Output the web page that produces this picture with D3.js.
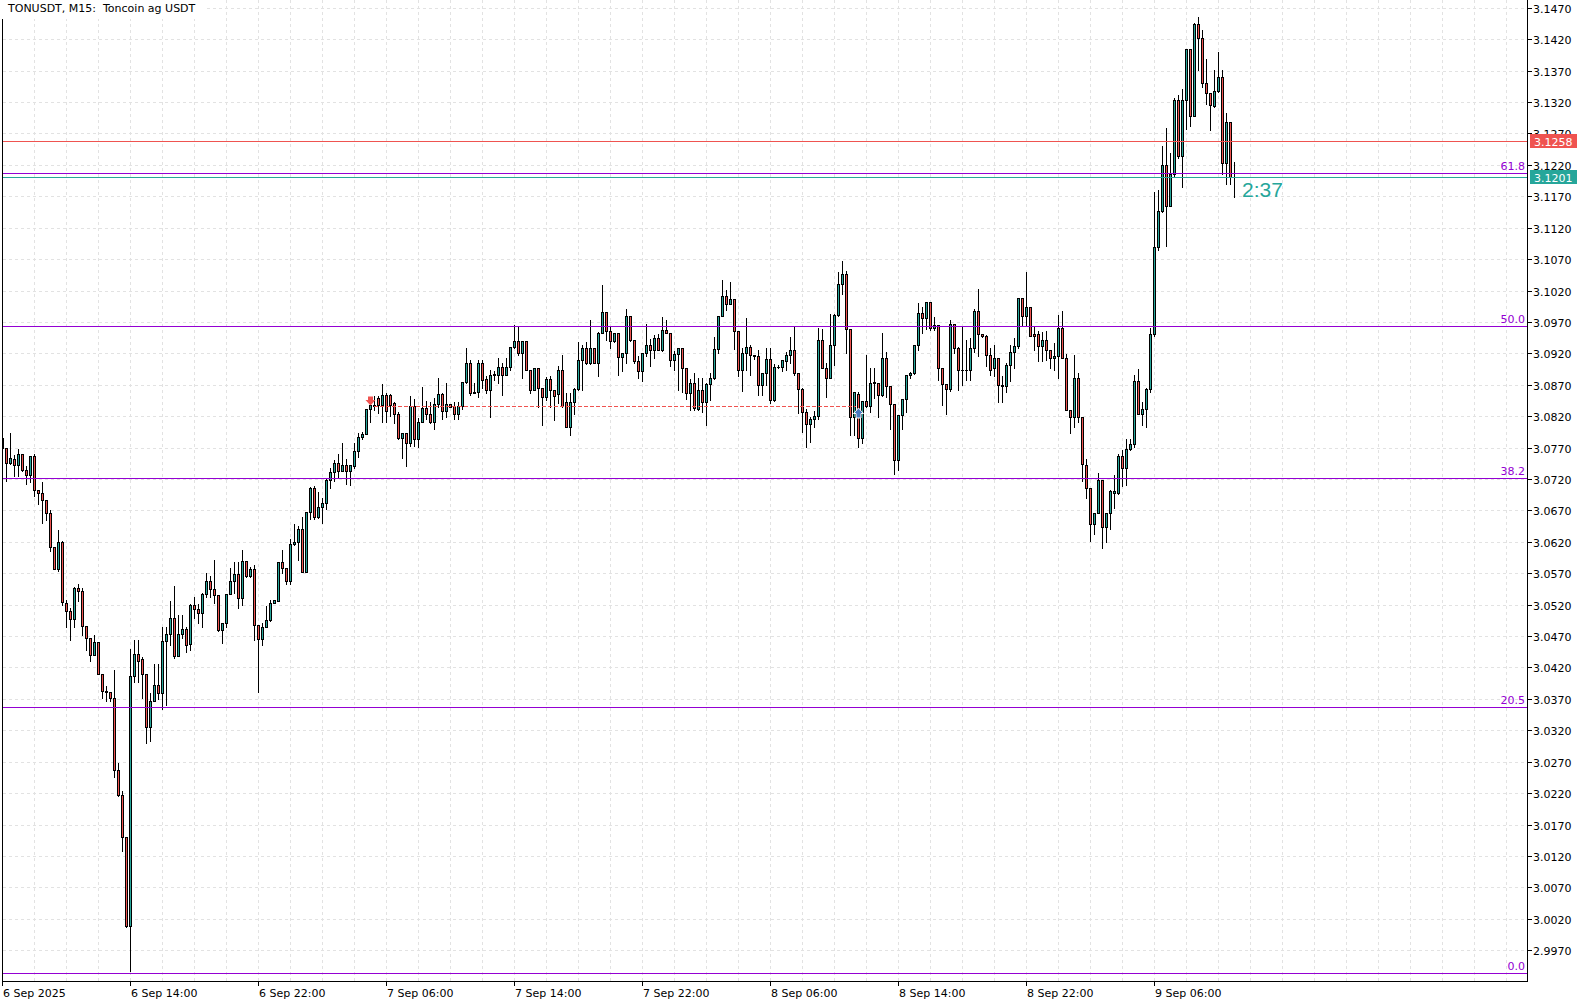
<!DOCTYPE html>
<html><head><meta charset="utf-8">
<script src="https://cdn.jsdelivr.net/npm/d3@7"></script>
<style>
html,body{margin:0;padding:0;background:#fff;}
svg{display:block;font-family:"DejaVu Sans",sans-serif;}
text{white-space:pre;}
</style>
</head><body>
<svg id="chart" width="1590" height="1005"></svg>
<script>
// ---------- DATA ----------
const title = "TONUSDT, M15:  Toncoin ag USDT";
const opens = [
3.0786,3.0769,3.0746,3.0752,3.0743,3.0759,3.0735,3.0726,3.0756,3.0703,
3.0698,3.0686,3.0666,3.0612,3.0577,3.0620,3.0523,3.0510,3.0497,3.0546,
3.0542,3.0486,3.0467,3.0440,3.0460,3.0410,3.0383,3.0381,3.0371,3.0257,
3.0217,3.0150,3.0008,3.0407,3.0442,3.0433,3.0409,3.0325,3.0367,3.0392,
3.0379,3.0462,3.0473,3.0498,3.0439,3.0473,3.0481,3.0458,3.0519,3.0513,
3.0506,3.0537,3.0558,3.0545,3.0535,3.0479,3.0491,3.0537,3.0557,3.0569,
3.0531,3.0589,3.0565,3.0577,3.0488,3.0465,3.0485,3.0496,3.0523,3.0526,
3.0588,3.0579,3.0558,3.0617,3.0620,3.0640,3.0572,3.0667,3.0705,3.0659,
3.0676,3.0682,3.0718,3.0731,3.0746,3.0733,3.0742,3.0733,3.0741,3.0765,
3.0787,3.0792,3.0831,3.0837,3.0849,3.0837,3.0854,3.0853,3.0841,3.0824,
3.0786,3.0793,3.0778,3.0836,3.0783,3.0811,3.0833,3.0824,3.0811,3.0840,
3.0856,3.0828,3.0839,3.0836,3.0824,3.0836,3.0875,3.0905,3.0859,3.0858,
3.0905,3.0879,3.0862,3.0886,3.0886,3.0898,3.0886,3.0898,3.0930,3.0939,
3.0921,3.0939,3.0894,3.0862,3.0897,3.0865,3.0851,3.0879,3.0862,3.0855,
3.0893,3.0843,3.0803,3.0843,3.0864,3.0910,3.0928,3.0904,3.0929,3.0905,
3.0953,3.0986,3.0955,3.0939,3.0952,3.0914,3.0921,3.0980,3.0942,3.0908,
3.0892,3.0921,3.0934,3.0926,3.0945,3.0926,3.0957,3.0953,3.0910,3.0919,
3.0929,3.0897,3.0857,3.0873,3.0832,3.0861,3.0842,3.0872,3.0880,3.0927,
3.0980,3.1012,3.0999,3.1006,3.0956,3.0894,3.0921,3.0930,3.0918,3.0916,
3.0870,3.0889,3.0911,3.0845,3.0898,3.0898,3.0908,3.0918,3.0925,3.0888,
3.0864,3.0826,3.0808,3.0816,3.0820,3.0942,3.0897,3.0881,3.0934,3.0981,
3.1031,3.1047,3.0958,3.0819,3.0856,3.0786,3.0844,3.0836,3.0873,3.0873,
3.0853,3.0913,3.0868,3.0840,3.0751,3.0822,3.0848,3.0886,3.0888,3.0934,
3.0985,3.0977,3.1001,3.0960,3.0965,3.0897,3.0871,3.0864,3.0967,3.0929,
3.0894,3.0894,3.0893,3.0929,3.0987,3.0950,3.0947,3.0918,3.0897,3.0913,
3.0870,3.0868,3.0902,3.0922,3.0931,3.1008,3.0979,3.0993,3.0951,3.0951,
3.0931,3.0942,3.0925,3.0912,3.0915,3.0961,3.0913,3.0830,3.0818,3.0881,
3.0819,3.0743,3.0705,3.0649,3.0666,3.0719,3.0643,3.0666,3.0697,3.0697,
3.0756,3.0737,3.0767,3.0776,3.0876,3.0824,3.0832,3.0864,3.0950,3.1090,
3.1146,3.1220,3.1155,3.1205,3.1323,3.1234,3.1324,3.1404,3.1298,3.1445,
3.1422,3.1350,3.1334,3.1313,3.1337,3.1360,3.1223,3.1288,3.1201
];
const highs = [
3.0792,3.0770,3.0794,3.0759,3.0768,3.0761,3.0742,3.0757,3.0761,3.0703,
3.0716,3.0686,3.0671,3.0612,3.0640,3.0622,3.0528,3.0516,3.0549,3.0553,
3.0547,3.0486,3.0467,3.0473,3.0460,3.0410,3.0391,3.0382,3.0416,3.0268,
3.0224,3.0150,3.0451,3.0464,3.0464,3.0437,3.0409,3.0380,3.0426,3.0426,
3.0485,3.0485,3.0527,3.0551,3.0505,3.0505,3.0485,3.0522,3.0533,3.0522,
3.0539,3.0571,3.0567,3.0592,3.0535,3.0491,3.0537,3.0579,3.0588,3.0588,
3.0608,3.0589,3.0580,3.0584,3.0488,3.0491,3.0518,3.0528,3.0527,3.0588,
3.0608,3.0579,3.0625,3.0649,3.0646,3.0661,3.0667,3.0708,3.0709,3.0700,
3.0690,3.0720,3.0738,3.0751,3.0761,3.0778,3.0753,3.0742,3.0778,3.0794,
3.0796,3.0832,3.0841,3.0853,3.0853,3.0872,3.0858,3.0856,3.0844,3.0828,
3.0794,3.0793,3.0853,3.0848,3.0818,3.0868,3.0845,3.0844,3.0849,3.0881,
3.0857,3.0873,3.0839,3.0844,3.0844,3.0875,3.0930,3.0910,3.0873,3.0911,
3.0911,3.0884,3.0894,3.0892,3.0914,3.0905,3.0913,3.0930,3.0966,3.0964,
3.0939,3.0941,3.0894,3.0897,3.0897,3.0865,3.0883,3.0884,3.0862,3.0900,
3.0918,3.0858,3.0858,3.0865,3.0939,3.0934,3.0939,3.0974,3.0929,3.0955,
3.1030,3.0986,3.0964,3.0952,3.0952,3.0921,3.0991,3.0980,3.0942,3.0916,
3.0921,3.0968,3.0943,3.0950,3.0952,3.0978,3.0974,3.0953,3.0924,3.0929,
3.0929,3.0897,3.0880,3.0889,3.0882,3.0882,3.0874,3.0889,3.0947,3.0980,
3.1038,3.1022,3.1035,3.1006,3.0956,3.0929,3.0977,3.0934,3.0918,3.0926,
3.0889,3.0930,3.0930,3.0904,3.0902,3.0910,3.0923,3.0947,3.0963,3.0888,
3.0866,3.0833,3.0820,3.0829,3.0961,3.0959,3.0906,3.0984,3.0984,3.1051,
3.1067,3.1052,3.0958,3.0859,3.0859,3.0844,3.0918,3.0897,3.0897,3.0873,
3.0953,3.0923,3.0868,3.0840,3.0822,3.0848,3.0886,3.0891,3.0934,3.1001,
3.0995,3.1001,3.1001,3.0979,3.0965,3.0897,3.0871,3.0974,3.0967,3.0931,
3.0963,3.0942,3.0945,3.0992,3.1024,3.0950,3.0950,3.0930,3.0934,3.0913,
3.0884,3.0905,3.0934,3.0945,3.1009,3.1008,3.1050,3.0995,3.0963,3.0956,
3.0955,3.0956,3.0925,3.0938,3.0982,3.0988,3.0919,3.0830,3.0918,3.0889,
3.0819,3.0753,3.0705,3.0666,3.0730,3.0719,3.0666,3.0703,3.0727,3.0760,
3.0767,3.0785,3.0785,3.0887,3.0896,3.0844,3.0866,3.0961,3.1178,3.1181,
3.1251,3.1279,3.1239,3.1327,3.1332,3.1341,3.1404,3.1404,3.1446,3.1456,
3.1435,3.1390,3.1334,3.1372,3.1401,3.1372,3.1304,3.1288,3.1226
];
const lows = [
3.0766,3.0718,3.0745,3.0726,3.0726,3.0733,3.0713,3.0716,3.0693,3.0681,
3.0650,3.0655,3.0606,3.0577,3.0574,3.0521,3.0486,3.0464,3.0486,3.0527,
3.0472,3.0448,3.0431,3.0440,3.0410,3.0373,3.0367,3.0367,3.0247,3.0217,
3.0129,3.0008,2.9938,3.0398,3.0398,3.0372,3.0301,3.0303,3.0367,3.0370,
3.0354,3.0361,3.0457,3.0436,3.0439,3.0468,3.0446,3.0448,3.0499,3.0491,
3.0485,3.0533,3.0533,3.0523,3.0479,3.0460,3.0486,3.0537,3.0539,3.0515,
3.0520,3.0565,3.0565,3.0465,3.0381,3.0456,3.0485,3.0495,3.0523,3.0526,
3.0571,3.0554,3.0554,3.0616,3.0592,3.0572,3.0572,3.0657,3.0657,3.0659,
3.0651,3.0673,3.0706,3.0717,3.0722,3.0733,3.0713,3.0712,3.0738,3.0756,
3.0784,3.0792,3.0811,3.0830,3.0826,3.0812,3.0812,3.0821,3.0810,3.0784,
3.0754,3.0742,3.0773,3.0773,3.0772,3.0811,3.0817,3.0810,3.0800,3.0836,
3.0817,3.0820,3.0835,3.0816,3.0816,3.0833,3.0873,3.0855,3.0857,3.0852,
3.0865,3.0857,3.0819,3.0879,3.0874,3.0855,3.0886,3.0894,3.0929,3.0918,
3.0881,3.0894,3.0857,3.0862,3.0836,3.0807,3.0847,3.0836,3.0814,3.0841,
3.0836,3.0803,3.0791,3.0825,3.0862,3.0862,3.0904,3.0904,3.0905,3.0885,
3.0953,3.0942,3.0930,3.0939,3.0886,3.0893,3.0905,3.0941,3.0905,3.0882,
3.0877,3.0917,3.0901,3.0914,3.0926,3.0925,3.0953,3.0901,3.0894,3.0862,
3.0860,3.0848,3.0831,3.0831,3.0830,3.0828,3.0807,3.0847,3.0880,3.0921,
3.0980,3.0990,3.0999,3.0927,3.0884,3.0861,3.0894,3.0886,3.0912,3.0854,
3.0854,3.0870,3.0842,3.0845,3.0897,3.0892,3.0894,3.0905,3.0886,3.0826,
3.0796,3.0772,3.0780,3.0804,3.0817,3.0897,3.0852,3.0881,3.0903,3.0981,
3.1015,3.0922,3.0791,3.0791,3.0771,3.0778,3.0836,3.0828,3.0849,3.0820,
3.0853,3.0852,3.0801,3.0728,3.0735,3.0801,3.0828,3.0881,3.0888,3.0926,
3.0953,3.0960,3.0958,3.0958,3.0878,3.0839,3.0824,3.0861,3.0922,3.0862,
3.0870,3.0878,3.0878,3.0923,3.0916,3.0947,3.0900,3.0886,3.0884,3.0844,
3.0844,3.0860,3.0876,3.0897,3.0929,3.0965,3.0965,3.0948,3.0926,3.0908,
3.0908,3.0910,3.0897,3.0894,3.0882,3.0913,3.0830,3.0794,3.0804,3.0812,
3.0717,3.0691,3.0622,3.0634,3.0666,3.0611,3.0620,3.0641,3.0674,3.0697,
3.0709,3.0711,3.0767,3.0772,3.0824,3.0807,3.0804,3.0860,3.0949,3.1086,
3.1146,3.1092,3.1155,3.1202,3.1231,3.1185,3.1278,3.1283,3.1298,3.1372,
3.1344,3.1318,3.1277,3.1313,3.1337,3.1207,3.1191,3.1190,3.1169
];
const closes = [
3.0769,3.0746,3.0753,3.0743,3.0759,3.0735,3.0726,3.0756,3.0702,3.0698,
3.0686,3.0666,3.0612,3.0577,3.0620,3.0524,3.0510,3.0497,3.0546,3.0541,
3.0486,3.0467,3.0440,3.0460,3.0410,3.0383,3.0381,3.0371,3.0257,3.0217,
3.0150,3.0008,3.0407,3.0442,3.0431,3.0409,3.0325,3.0367,3.0392,3.0379,
3.0462,3.0473,3.0498,3.0439,3.0473,3.0481,3.0456,3.0519,3.0513,3.0506,
3.0537,3.0558,3.0545,3.0535,3.0479,3.0491,3.0537,3.0557,3.0569,3.0531,
3.0589,3.0565,3.0577,3.0488,3.0465,3.0485,3.0496,3.0523,3.0527,3.0588,
3.0579,3.0558,3.0617,3.0620,3.0640,3.0572,3.0667,3.0705,3.0659,3.0676,
3.0682,3.0718,3.0731,3.0746,3.0733,3.0742,3.0733,3.0742,3.0765,3.0787,
3.0792,3.0831,3.0837,3.0836,3.0837,3.0854,3.0828,3.0837,3.0824,3.0786,
3.0793,3.0778,3.0836,3.0783,3.0811,3.0833,3.0824,3.0811,3.0840,3.0856,
3.0828,3.0839,3.0835,3.0824,3.0836,3.0875,3.0905,3.0857,3.0857,3.0905,
3.0878,3.0862,3.0886,3.0887,3.0898,3.0886,3.0899,3.0930,3.0939,3.0921,
3.0939,3.0894,3.0862,3.0897,3.0865,3.0851,3.0879,3.0862,3.0852,3.0893,
3.0836,3.0803,3.0843,3.0864,3.0910,3.0928,3.0904,3.0928,3.0905,3.0953,
3.0986,3.0955,3.0939,3.0952,3.0914,3.0921,3.0980,3.0941,3.0908,3.0892,
3.0921,3.0934,3.0926,3.0945,3.0926,3.0957,3.0953,3.0910,3.0919,3.0929,
3.0897,3.0857,3.0873,3.0833,3.0861,3.0842,3.0872,3.0880,3.0927,3.0980,
3.1012,3.0999,3.1006,3.0956,3.0894,3.0921,3.0930,3.0918,3.0916,3.0870,
3.0889,3.0911,3.0845,3.0898,3.0899,3.0909,3.0918,3.0925,3.0888,3.0864,
3.0826,3.0808,3.0816,3.0820,3.0942,3.0897,3.0881,3.0934,3.0981,3.1031,
3.1047,3.0958,3.0819,3.0859,3.0786,3.0844,3.0836,3.0873,3.0874,3.0853,
3.0913,3.0868,3.0840,3.0751,3.0822,3.0848,3.0886,3.0888,3.0934,3.0985,
3.0977,3.1001,3.0960,3.0965,3.0897,3.0871,3.0864,3.0967,3.0929,3.0893,
3.0893,3.0893,3.0929,3.0987,3.0950,3.0947,3.0918,3.0894,3.0913,3.0870,
3.0868,3.0902,3.0922,3.0931,3.1008,3.0979,3.0993,3.0948,3.0947,3.0931,
3.0942,3.0925,3.0912,3.0915,3.0961,3.0913,3.0830,3.0818,3.0881,3.0818,
3.0744,3.0705,3.0649,3.0666,3.0719,3.0643,3.0666,3.0701,3.0701,3.0756,
3.0737,3.0767,3.0776,3.0876,3.0824,3.0832,3.0864,3.0950,3.1090,3.1146,
3.1220,3.1155,3.1205,3.1323,3.1234,3.1324,3.1404,3.1298,3.1445,3.1422,
3.1350,3.1334,3.1315,3.1337,3.1360,3.1223,3.1288,3.1201,3.1201
];
const timeLabels = ["6 Sep 2025","6 Sep 14:00","6 Sep 22:00","7 Sep 06:00","7 Sep 14:00",
  "7 Sep 22:00","8 Sep 06:00","8 Sep 14:00","8 Sep 22:00","9 Sep 06:00"];
const timeLabelBars = [0,32,64,96,128,160,192,224,256,288];
const priceTicks = [3.1470,3.1420,3.1370,3.1320,3.1270,3.1220,3.1170,3.1120,3.1070,3.1020,
  3.0970,3.0920,3.0870,3.0820,3.0770,3.0720,3.0670,3.0620,3.0570,3.0520,3.0470,3.0420,
  3.0370,3.0320,3.0270,3.0220,3.0170,3.0120,3.0070,3.0020,2.9970];
const fibLevels = [0.0, 20.5, 38.2, 50.0, 61.8];
const fibLow = 2.9934, fibHigh = 3.19945;
const askPrice = 3.1258, bidPrice = 3.1201;
const countdown = "2:37";
const tradeOpenBar = 92, tradeCloseBar = 214, tradePrice = 3.0836;

// ---------- LAYOUT ----------
const W = 1590, H = 1005;
const L = 2.5, R = 1527.5, B = 981.5;
const GREEN = "#26a69a", RED = "#ef5350", FIB = "#9400d3", GRID = "#e2e2e2";

const svg = d3.select("#chart");
const x = d3.scaleLinear().domain([0, 300]).range([2.5, 2.5 + 4 * 300]);
const y = d3.scaleLinear().domain([2.9970, 3.1470]).range([950.7, 8.3]);
const snap = v => Math.round(v - 0.5) + 0.5;

svg.append("rect").attr("width", W).attr("height", H).attr("fill", "#fff");

const clip = svg.append("defs").append("clipPath").attr("id", "plot")
  .append("rect").attr("x", 2).attr("y", 0).attr("width", R - 2).attr("height", B);

// grid
const grid = svg.append("g").attr("shape-rendering", "crispEdges");
grid.selectAll("line.h").data(priceTicks).enter().append("line")
  .attr("x1", L).attr("x2", R).attr("y1", d => snap(y(d))).attr("y2", d => snap(y(d)))
  .attr("stroke", GRID).attr("stroke-dasharray", "3,3");
const vBars = d3.range(8, 384, 8);
grid.selectAll("line.v").data(vBars.filter(b => x(b) < R)).enter().append("line")
  .attr("x1", d => x(d)).attr("x2", d => x(d)).attr("y1", 0).attr("y2", B)
  .attr("stroke", GRID).attr("stroke-dasharray", "3,3");

// candles
const bars = opens.map((o, i) => ({i, o, h: highs[i], l: lows[i], c: closes[i]}));
const cg = svg.append("g").attr("clip-path", "url(#plot)").attr("shape-rendering", "crispEdges");
cg.selectAll("line.wick").data(bars).enter().append("line")
  .attr("x1", d => x(d.i)).attr("x2", d => x(d.i))
  .attr("y1", d => Math.round(y(d.h))).attr("y2", d => Math.round(y(d.l)) + 1)
  .attr("stroke", "#000").attr("stroke-width", 1);
cg.selectAll("g.body").data(bars).enter().each(function(d) {
  const top = snap(y(Math.max(d.o, d.c))), bot = snap(y(Math.min(d.o, d.c)));
  if (bot - top < 1) {
    d3.select(this).append("line").attr("x1", x(d.i) - 1.5).attr("x2", x(d.i) + 1.5)
      .attr("y1", top).attr("y2", top).attr("stroke", "#000");
  } else {
    d3.select(this).append("rect").attr("x", x(d.i) - 1).attr("width", 2)
      .attr("y", top).attr("height", bot - top)
      .attr("fill", d.c >= d.o ? GREEN : RED).attr("stroke", "#000").attr("stroke-width", 1);
  }
});

// fibonacci levels
const fg = svg.append("g");
fibLevels.forEach(f => {
  const p = fibLow + (fibHigh - fibLow) * f / 100;
  const yy = snap(y(p));
  fg.append("line").attr("x1", L).attr("x2", R).attr("y1", yy).attr("y2", yy)
    .attr("stroke", FIB).attr("stroke-width", 1).attr("shape-rendering", "crispEdges");
  fg.append("text").attr("x", 1525).attr("y", yy - 3.5).attr("text-anchor", "end")
    .attr("font-size", 11).attr("fill", FIB).text(f.toFixed(1));
});

// trade markers
const tg = svg.append("g");
const ty = snap(y(tradePrice));
tg.append("line").attr("x1", x(tradeOpenBar) + 3).attr("x2", x(tradeCloseBar) - 3)
  .attr("y1", ty).attr("y2", ty).attr("stroke", RED).attr("stroke-dasharray", "4,2")
  .attr("shape-rendering", "crispEdges");
{
  const cx = x(tradeOpenBar), tip = ty - 1;
  tg.append("polygon").attr("fill", RED).attr("points", [
    [cx - 2.5, tip - 9], [cx + 2.5, tip - 9], [cx + 2.5, tip - 5.5], [cx + 5, tip - 5.5],
    [cx, tip], [cx - 5, tip - 5.5], [cx - 2.5, tip - 5.5]].map(p => p.join(",")).join(" "));
}
{
  const cx = x(tradeCloseBar), tip = ty + 1.5;
  tg.append("polygon").attr("fill", "#4a78c0").attr("stroke", "#fff").attr("stroke-width", 1)
    .attr("points", [
    [cx, tip], [cx + 5, tip + 5.5], [cx + 2.5, tip + 5.5], [cx + 2.5, tip + 10],
    [cx - 2.5, tip + 10], [cx - 2.5, tip + 5.5], [cx - 5, tip + 5.5]].map(p => p.join(",")).join(" "));
}

// bid / ask lines
const ay = snap(y(askPrice)), by = snap(y(bidPrice));
svg.append("line").attr("x1", L).attr("x2", R).attr("y1", ay).attr("y2", ay)
  .attr("stroke", RED).attr("shape-rendering", "crispEdges");
svg.append("line").attr("x1", L).attr("x2", R).attr("y1", by).attr("y2", by)
  .attr("stroke", GREEN).attr("shape-rendering", "crispEdges");

// frame
const fr = svg.append("g").attr("shape-rendering", "crispEdges").attr("stroke", "#000");
fr.append("line").attr("x1", L).attr("x2", L).attr("y1", 0).attr("y2", B);
fr.append("line").attr("x1", R).attr("x2", R).attr("y1", 0).attr("y2", B);
fr.append("line").attr("x1", L).attr("x2", R).attr("y1", B).attr("y2", B);

// price axis
const pa = svg.append("g");
priceTicks.forEach(p => {
  const yy = snap(y(p));
  pa.append("line").attr("x1", R).attr("x2", R + 4).attr("y1", yy).attr("y2", yy)
    .attr("stroke", "#000").attr("shape-rendering", "crispEdges");
  pa.append("text").attr("x", 1533).attr("y", yy + 4).attr("font-size", 11)
    .attr("fill", "#000").text(p.toFixed(4));
});

// time axis
const ta = svg.append("g");
timeLabelBars.forEach((b, k) => {
  ta.append("line").attr("x1", x(b)).attr("x2", x(b)).attr("y1", B).attr("y2", B + 4)
    .attr("stroke", "#000").attr("shape-rendering", "crispEdges");
  ta.append("text").attr("x", x(b) + 0.5).attr("y", 997).attr("font-size", 11)
    .attr("fill", "#000").text(timeLabels[k]);
});

// price boxes
[[askPrice, RED], [bidPrice, GREEN]].forEach(([p, col]) => {
  const yy = snap(y(p));
  svg.append("rect").attr("x", 1530).attr("y", yy - 7.5).attr("width", 47).attr("height", 14)
    .attr("fill", col);
  svg.append("text").attr("x", 1534).attr("y", yy + 4.5).attr("font-size", 11)
    .attr("fill", "#fff").text(p.toFixed(4));
});

// countdown
svg.append("text").attr("x", 1242).attr("y", 196.5).attr("font-size", 21)
  .attr("font-family", "'Liberation Sans', Arial, sans-serif").attr("fill", GREEN).text(countdown);

// title
svg.append("rect").attr("x", 0).attr("y", 0).attr("width", 205).attr("height", 19).attr("fill", "#fff");
svg.append("text").attr("x", 8).attr("y", 12).attr("font-size", 11).attr("fill", "#000").text(title);
</script>
</body></html>
